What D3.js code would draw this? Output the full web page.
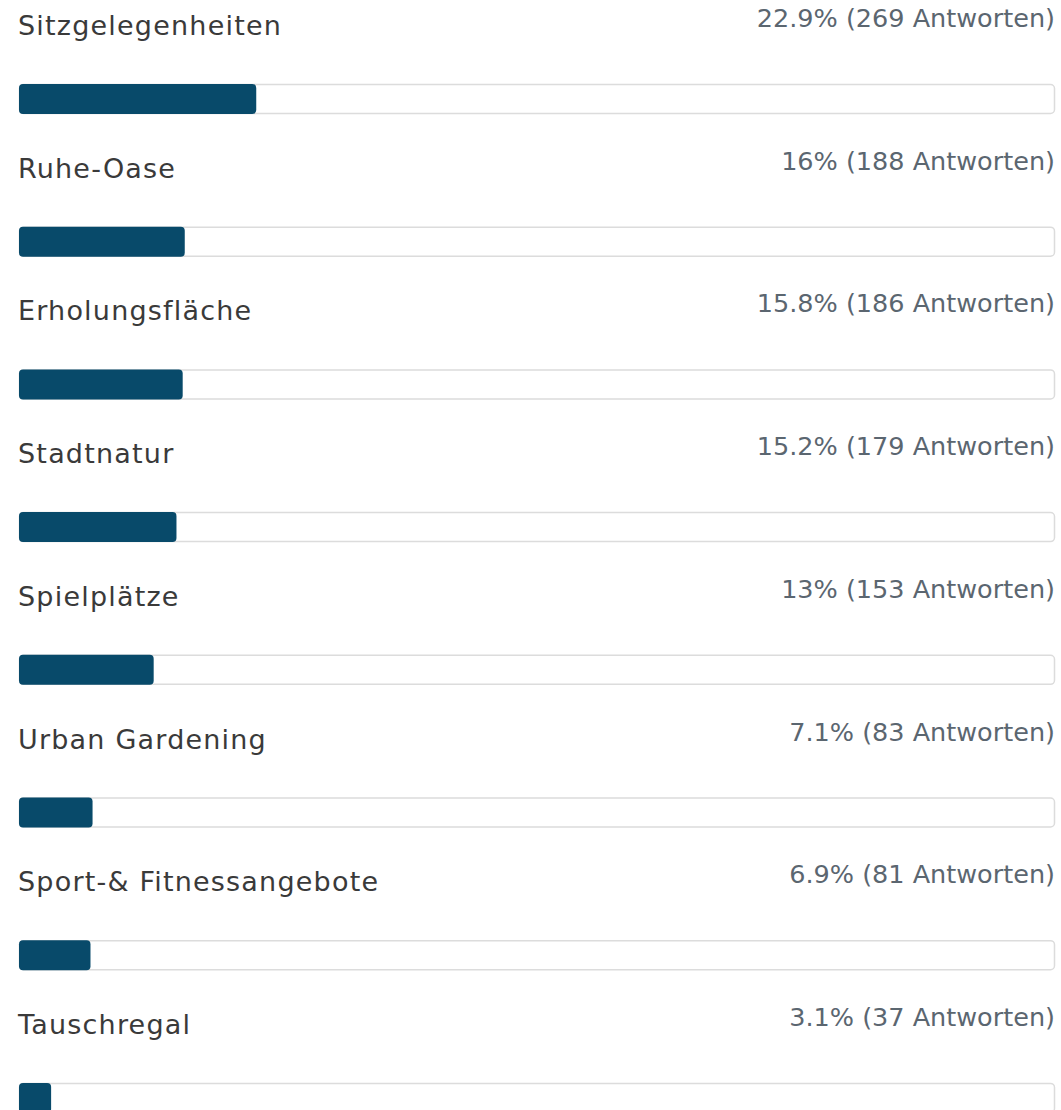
<!DOCTYPE html>
<html>
<head>
<meta charset="utf-8">
<script src="https://cdn.jsdelivr.net/npm/d3@7"></script>
<style>
  body { margin: 0; background: #fff; }
</style>
</head>
<body>
<svg id="chart"></svg>
<script>
var categories = [
  "Sitzgelegenheiten",
  "Ruhe-Oase",
  "Erholungsfläche",
  "Stadtnatur",
  "Spielplätze",
  "Urban Gardening",
  "Sport-& Fitnessangebote",
  "Tauschregal"
];
var percents = [22.9, 16, 15.8, 15.2, 13, 7.1, 6.9, 3.1];
var answers = [269, 188, 186, 179, 153, 83, 81, 37];

var width = 1061;
var height = 1110;
var left = 19, right = 1055;
var rowH = 142.7;
var barTop = 84, barH = 29;

var svg = d3.select("#chart").attr("width", width).attr("height", height);

var xscale = d3.scaleLinear().domain([0, 100]).range([left, right]);
var yscale = d3.scaleBand()
  .domain(categories)
  .range([0, rowH * categories.length]);

var rows = svg.selectAll(".row")
  .data(categories)
  .enter()
  .append("g")
  .attr("class", "row")
  .attr("transform", function (d) { return "translate(0," + yscale(d) + ")"; });

// category label
rows.append("text")
  .attr("x", left - 1)
  .attr("y", 35)
  .style("font-family", "'DejaVu Sans', sans-serif")
  .style("font-size", "27px")
  .style("letter-spacing", "1.2px")
  .attr("fill", "#3a3a3a")
  .text(function (d) { return d; });

// percent + count
rows.append("text")
  .attr("x", right)
  .attr("y", 27)
  .attr("text-anchor", "end")
  .style("font-family", "'DejaVu Sans', sans-serif")
  .style("font-size", "25.5px")
  .attr("fill", "#5b6670")
  .text(function (d, i) { return percents[i] + "% (" + answers[i] + " Antworten)"; });

// track
rows.append("rect")
  .attr("x", xscale(0) + 0.5)
  .attr("y", barTop + 0.5)
  .attr("width", xscale(100) - xscale(0) - 1)
  .attr("height", barH)
  .attr("rx", 4)
  .attr("fill", "#fff")
  .attr("stroke", "#dcdcdc")
  .attr("stroke-width", 1.5);

// bar
rows.append("rect")
  .attr("x", xscale(0))
  .attr("y", barTop)
  .attr("width", function (d, i) { return xscale(percents[i]) - xscale(0); })
  .attr("height", barH + 1)
  .attr("rx", 4)
  .attr("fill", "#084a6a");
</script>
</body>
</html>
